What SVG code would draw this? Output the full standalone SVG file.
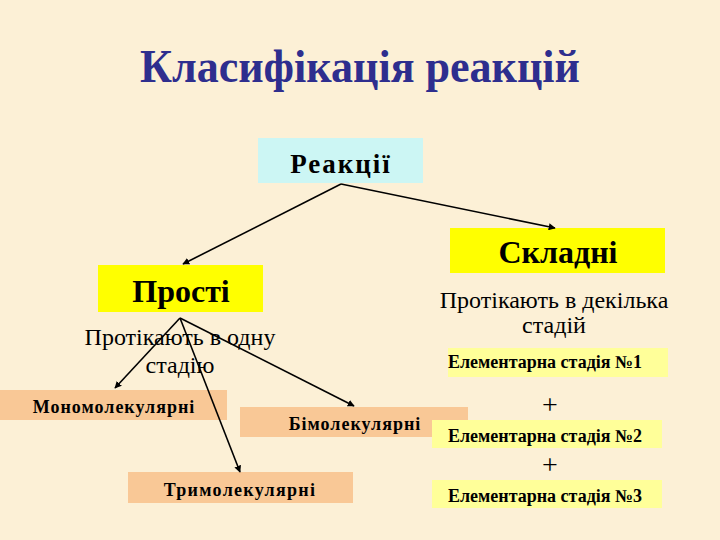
<svg xmlns="http://www.w3.org/2000/svg" width="720" height="540" viewBox="0 0 720 540">
<defs>
<marker id="ah" viewBox="0 0 10 10" refX="9" refY="5" markerWidth="7" markerHeight="7" markerUnits="userSpaceOnUse" orient="auto">
<path d="M0,0 L10,5 L0,10 z" fill="#000"/>
</marker>
<style>
.t{text-anchor:middle;fill:#000}
.b{font-weight:bold}
.c{stroke:#000;stroke-width:1.6;fill:none;marker-end:url(#ah)}
</style>
</defs>
<rect width="720" height="540" fill="#FCF0D6"/>
<g font-family="Liberation Serif, Times New Roman, serif">
<text class="t b" x="360" y="82" font-size="46" style="fill:#2E2E8E" textLength="440" lengthAdjust="spacingAndGlyphs">Класифікація реакцій</text>
<g id="reaktsii"><rect x="258" y="138" width="165" height="45" fill="#CCF6F4"/><text class="t b" x="341" y="173" font-size="27" letter-spacing="2">Реакції</text></g>
<g id="prosti"><rect x="98" y="265" width="165" height="47" fill="#FFFF00"/><text class="t b" x="181" y="302" font-size="32">Прості</text></g>
<g id="prosti-desc"><text class="t" x="180" y="345" font-size="24">Протікають в одну</text><text class="t" x="180" y="373" font-size="24">стадію</text></g>
<g id="skladni"><rect x="450" y="228" width="215" height="45" fill="#FFFF00"/><text class="t b" x="558" y="263" font-size="32">Складні</text></g>
<g id="skladni-desc"><text class="t" x="554" y="308" font-size="24">Протікають в декілька</text><text class="t" x="554" y="333" font-size="24">стадій</text></g>
<g id="mono"><rect x="0" y="390" width="227" height="30" fill="#F9C896"/><text class="t b" x="114" y="413" font-size="18" letter-spacing="1">Мономолекулярні</text></g>
<g id="bi"><rect x="240" y="407" width="228" height="30" fill="#F9C896"/><text class="t b" x="355" y="430" font-size="18" letter-spacing="1">Бімолекулярні</text></g>
<g id="tri"><rect x="128" y="472" width="225" height="31" fill="#F9C896"/><text class="t b" x="240" y="496" font-size="18" letter-spacing="1.3">Тримолекулярні</text></g>
<g id="st1"><rect x="448" y="348" width="220" height="29" fill="#FFFF99"/><text class="t b" x="545" y="368" font-size="18">Елементарна стадія №1</text></g>
<g id="plus1"><text class="t" x="550" y="414" font-size="28">+</text></g>
<g id="st2"><rect x="432" y="420" width="230" height="28" fill="#FFFF99"/><text class="t b" x="545" y="442" font-size="18">Елементарна стадія №2</text></g>
<g id="plus2"><text class="t" x="550" y="474" font-size="28">+</text></g>
<g id="st3"><rect x="432" y="480" width="230" height="28" fill="#FFFF99"/><text class="t b" x="545" y="502" font-size="18">Елементарна стадія №3</text></g>
</g>
<g id="connectors">
<line class="c" x1="341" y1="184" x2="183" y2="264"/>
<line class="c" x1="341" y1="184" x2="555" y2="228"/>
<line class="c" x1="180" y1="318" x2="115" y2="388"/>
<line class="c" x1="180" y1="318" x2="354" y2="406"/>
<line class="c" x1="180" y1="318" x2="240" y2="472"/>
</g>
</svg>
